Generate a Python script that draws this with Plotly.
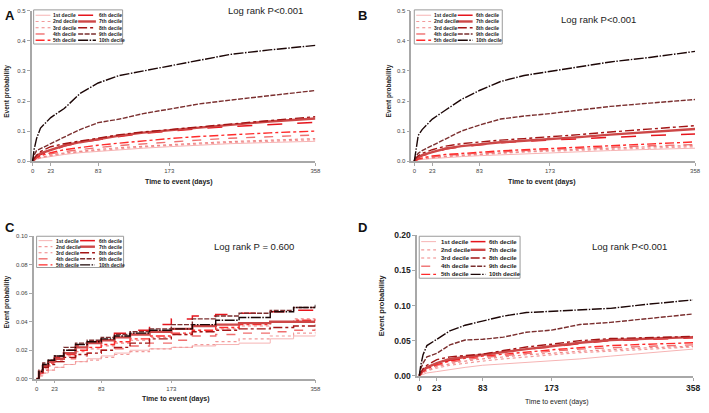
import plotly.graph_objects as go

W, H = 709, 413

DECILES = ["1st decile", "2nd decile", "3rd decile", "4th decile", "5th decile",
           "6th decile", "7th decile", "8th decile", "9th decile", "10th decile"]
X_TICKS = [0, 23, 83, 173, 358]

# time grid (days) at which curves were read
TIME_ABD = [0, 2, 5, 10, 23, 40, 60, 83, 110, 140, 173, 210, 250, 300, 358]
TIME_C = [0, 3, 8, 15, 23, 35, 50, 65, 83, 100, 120, 145, 173, 200, 230, 260, 300, 330, 358]

# Panel A: event probability per decile (1st .. 10th)
A_VALUES = [
    [0, 0.003, 0.006, 0.010, 0.016, 0.022, 0.028, 0.033, 0.038, 0.043, 0.048, 0.053, 0.058, 0.062, 0.066],
    [0, 0.004, 0.007, 0.011, 0.018, 0.025, 0.031, 0.036, 0.042, 0.047, 0.052, 0.057, 0.062, 0.066, 0.071],
    [0, 0.004, 0.008, 0.012, 0.020, 0.027, 0.033, 0.039, 0.045, 0.050, 0.055, 0.060, 0.065, 0.070, 0.075],
    [0, 0.005, 0.010, 0.015, 0.024, 0.032, 0.039, 0.045, 0.052, 0.058, 0.064, 0.070, 0.076, 0.082, 0.087],
    [0, 0.006, 0.012, 0.018, 0.028, 0.038, 0.046, 0.053, 0.060, 0.068, 0.075, 0.082, 0.088, 0.094, 0.100],
    [0, 0.007, 0.014, 0.022, 0.035, 0.050, 0.062, 0.072, 0.082, 0.092, 0.100, 0.108, 0.115, 0.122, 0.129],
    [0, 0.008, 0.016, 0.026, 0.038, 0.052, 0.063, 0.074, 0.085, 0.095, 0.103, 0.112, 0.122, 0.132, 0.142],
    [0, 0.010, 0.020, 0.032, 0.048, 0.058, 0.066, 0.076, 0.088, 0.097, 0.105, 0.115, 0.125, 0.135, 0.148],
    [0, 0.020, 0.035, 0.042, 0.058, 0.080, 0.105, 0.128, 0.140, 0.158, 0.172, 0.190, 0.203, 0.218, 0.235],
    [0, 0.040, 0.075, 0.110, 0.145, 0.175, 0.225, 0.260, 0.285, 0.300, 0.315, 0.335, 0.355, 0.370, 0.385],
]

# Panel B
B_VALUES = [
    [0, 0.002, 0.004, 0.006, 0.009, 0.012, 0.015, 0.018, 0.021, 0.024, 0.027, 0.031, 0.035, 0.039, 0.043],
    [0, 0.002, 0.004, 0.007, 0.011, 0.015, 0.018, 0.022, 0.026, 0.030, 0.033, 0.036, 0.040, 0.044, 0.048],
    [0, 0.003, 0.005, 0.008, 0.012, 0.016, 0.020, 0.024, 0.028, 0.032, 0.036, 0.040, 0.044, 0.048, 0.052],
    [0, 0.003, 0.006, 0.009, 0.014, 0.019, 0.023, 0.027, 0.031, 0.035, 0.039, 0.043, 0.047, 0.051, 0.055],
    [0, 0.004, 0.007, 0.011, 0.017, 0.022, 0.026, 0.030, 0.034, 0.038, 0.042, 0.047, 0.052, 0.058, 0.064],
    [0, 0.006, 0.012, 0.018, 0.028, 0.040, 0.048, 0.055, 0.061, 0.066, 0.070, 0.075, 0.080, 0.085, 0.090],
    [0, 0.007, 0.013, 0.020, 0.030, 0.042, 0.050, 0.056, 0.063, 0.068, 0.073, 0.080, 0.088, 0.097, 0.107],
    [0, 0.010, 0.018, 0.026, 0.038, 0.050, 0.058, 0.064, 0.070, 0.075, 0.080, 0.088, 0.097, 0.107, 0.118],
    [0, 0.015, 0.026, 0.035, 0.052, 0.075, 0.100, 0.120, 0.140, 0.150, 0.158, 0.170, 0.182, 0.193, 0.205],
    [0, 0.040, 0.085, 0.105, 0.140, 0.170, 0.205, 0.235, 0.265, 0.285, 0.298, 0.315, 0.330, 0.345, 0.365],
]

# Panel C (step curves)
C_VALUES = [
    [0, 0.002, 0.004, 0.006, 0.008, 0.010, 0.012, 0.014, 0.016, 0.018, 0.020, 0.021, 0.022, 0.023, 0.024, 0.025, 0.028, 0.030, 0.031],
    [0, 0.002, 0.004, 0.006, 0.008, 0.010, 0.012, 0.013, 0.015, 0.017, 0.019, 0.021, 0.022, 0.024, 0.026, 0.028, 0.030, 0.032, 0.033],
    [0, 0.003, 0.007, 0.010, 0.013, 0.016, 0.019, 0.021, 0.023, 0.025, 0.027, 0.029, 0.031, 0.033, 0.035, 0.037, 0.040, 0.042, 0.043],
    [0, 0.003, 0.006, 0.009, 0.012, 0.014, 0.016, 0.018, 0.020, 0.021, 0.023, 0.025, 0.027, 0.030, 0.031, 0.032, 0.033, 0.034, 0.035],
    [0, 0.004, 0.008, 0.011, 0.014, 0.017, 0.020, 0.022, 0.024, 0.026, 0.028, 0.030, 0.032, 0.034, 0.036, 0.038, 0.040, 0.041, 0.042],
    [0, 0.004, 0.009, 0.012, 0.015, 0.020, 0.023, 0.026, 0.029, 0.032, 0.034, 0.038, 0.042, 0.044, 0.045, 0.046, 0.047, 0.048, 0.0485],
    [0, 0.005, 0.009, 0.012, 0.014, 0.018, 0.022, 0.025, 0.027, 0.029, 0.031, 0.033, 0.035, 0.037, 0.038, 0.039, 0.040, 0.040, 0.040],
    [0, 0.004, 0.008, 0.010, 0.012, 0.015, 0.017, 0.018, 0.020, 0.022, 0.025, 0.028, 0.031, 0.033, 0.034, 0.035, 0.036, 0.037, 0.038],
    [0, 0.006, 0.011, 0.013, 0.016, 0.022, 0.025, 0.027, 0.029, 0.031, 0.033, 0.035, 0.038, 0.042, 0.044, 0.046, 0.048, 0.050, 0.051],
    [0, 0.005, 0.010, 0.013, 0.016, 0.020, 0.024, 0.026, 0.028, 0.030, 0.032, 0.034, 0.035, 0.038, 0.041, 0.043, 0.047, 0.050, 0.052],
]

# Panel D
D_VALUES = [
    [0, 0.001, 0.002, 0.004, 0.006, 0.009, 0.012, 0.015, 0.017, 0.019, 0.021, 0.024, 0.028, 0.033, 0.038],
    [0, 0.002, 0.004, 0.007, 0.011, 0.015, 0.018, 0.021, 0.024, 0.027, 0.030, 0.033, 0.035, 0.038, 0.041],
    [0, 0.002, 0.005, 0.008, 0.013, 0.017, 0.021, 0.024, 0.027, 0.030, 0.032, 0.035, 0.037, 0.040, 0.042],
    [0, 0.003, 0.006, 0.009, 0.015, 0.019, 0.023, 0.026, 0.029, 0.032, 0.035, 0.038, 0.040, 0.042, 0.044],
    [0, 0.003, 0.006, 0.010, 0.016, 0.021, 0.025, 0.028, 0.031, 0.034, 0.037, 0.040, 0.043, 0.045, 0.047],
    [0, 0.003, 0.007, 0.011, 0.017, 0.022, 0.026, 0.030, 0.034, 0.038, 0.041, 0.046, 0.050, 0.052, 0.054],
    [0, 0.004, 0.008, 0.012, 0.018, 0.024, 0.027, 0.030, 0.034, 0.038, 0.042, 0.047, 0.051, 0.053, 0.055],
    [0, 0.005, 0.010, 0.015, 0.023, 0.027, 0.029, 0.031, 0.036, 0.041, 0.045, 0.050, 0.053, 0.054, 0.056],
    [0, 0.010, 0.018, 0.027, 0.032, 0.044, 0.051, 0.052, 0.055, 0.062, 0.065, 0.073, 0.076, 0.082, 0.088],
    [0, 0.015, 0.030, 0.043, 0.052, 0.064, 0.072, 0.078, 0.085, 0.090, 0.092, 0.094, 0.096, 0.102, 0.108],
]

PVALUE_TEXT = {"A": "Log rank P&lt;0.001", "B": "Log rank P&lt;0.001",
               "C": "Log rank P = 0.600", "D": "Log rank P&lt;0.001"}

# ---- styles ----
COLORS = ["#f6b4b4", "#f29a9a", "#ef8585", "#ef6f6f", "#ff2a2a",
          "#e5141c", "#cd4747", "#a31515", "#7a2e2e", "#1c0606"]
DASHES = ["solid", "dot", "dot", "dash", "dashdot",
          "longdash", "solid", "dashdot", "5px,1.5px", "10px,1.5px,1.5px,1.5px"]
WIDTHS = [1.0, 1.2, 1.2, 1.4, 1.4, 1.5, 2.4, 1.4, 1.4, 1.4]

FONT = "Liberation Sans"


def fx(px):
    return px / W


def fy(py):
    return 1 - py / H


# panel geometry in pixels
PANELS = [
    dict(key="A", ax="", time=TIME_ABD, vals=A_VALUES, shape="linear",
         xdom=(31, 318), xr=(-1.2, 358), ydom=(160, 6), yr=(0, 0.5), ytick=0.1, yfmt=".1f",
         tick=dict(size=6, color="#444"),
         letter=(9, 11), ptitle=(268, 6), ytitle=(6, 88), xtitle=(180, 181), tfs=(6.5, 7, True),
         leg=dict(box=(33, 5, 123, 40), y0=10.5, dy=6.4, c1=(35, 50, 52), c2=(78, 96, 98), fs=5)),
    dict(key="B", ax="2", time=TIME_ABD, vals=B_VALUES, shape="linear",
         xdom=(415, 702), xr=(-3.8, 358), ydom=(160, 6), yr=(0, 0.5), ytick=0.1, yfmt=".1f",
         tick=dict(size=6, color="#444"),
         letter=(366, 11), ptitle=(604, 15), ytitle=(392, 88), xtitle=(547, 181), tfs=(6.5, 7, True),
         leg=dict(box=(418, 5, 507, 40), y0=10.5, dy=6.4, c1=(420, 435, 437), c2=(462, 477, 479), fs=5)),
    dict(key="C", ax="3", time=TIME_C, vals=C_VALUES, shape="hv",
         xdom=(33, 318), xr=(-3.8, 358), ydom=(383, 237), yr=(0, 0.10), ytick=0.02, yfmt=".2f",
         tick=dict(size=6, color="#444"),
         letter=(9, 228), ptitle=(256, 247), ytitle=(6, 304), xtitle=(177, 404), tfs=(6.5, 7, True),
         leg=dict(box=(36, 237, 124, 269), y0=241.5, dy=6.2, c1=(38, 52, 55), c2=(80, 95, 98), fs=5)),
    dict(key="D", ax="4", time=TIME_ABD, vals=D_VALUES, shape="linear",
         xdom=(421, 700), xr=(-2.6, 358), ydom=(380, 236), yr=(0, 0.20), ytick=0.05, yfmt=".2f",
         tick=dict(size=8.5, color="#222", weight="bold"),
         letter=(366, 228), ptitle=(636, 247), ytitle=(385, 308), xtitle=(562, 407), tfs=(7.5, 7, False),
         leg=dict(box=(423, 237, 525, 280), y0=242.5, dy=8.4, c1=(425, 440, 444), c2=(475, 490, 493), fs=6)),
]

fig = go.Figure()
shapes = []
annotations = []

for p in PANELS:
    xa = "x" + p["ax"]
    ya = "y" + p["ax"]
    for i, name in enumerate(DECILES):
        fig.add_trace(go.Scatter(
            x=p["time"], y=p["vals"][i], mode="lines", name=name,
            line=dict(color=COLORS[i], dash=DASHES[i], width=WIDTHS[i], shape=p["shape"]),
            xaxis=xa, yaxis=ya, showlegend=False, hoverinfo="skip"))

    axis_style = dict(showline=True, linecolor="#a8a8a8", linewidth=1.5, ticks="outside",
                      ticklen=3, tickwidth=1, tickcolor="#a8a8a8", showgrid=False,
                      zeroline=False, tickfont=dict(family=FONT, **p["tick"]), fixedrange=True)
    xkey = "xaxis" + p["ax"]
    ykey = "yaxis" + p["ax"]
    fig.update_layout(**{
        xkey: dict(axis_style, domain=[fx(p["xdom"][0]), fx(p["xdom"][1])], range=list(p["xr"]),
                   tickvals=X_TICKS, anchor=ya),
        ykey: dict(axis_style, domain=[fy(p["ydom"][0]), fy(p["ydom"][1])], range=list(p["yr"]),
                   dtick=p["ytick"], tick0=0, tickformat=p["yfmt"], anchor=xa),
    })

    common = dict(xref="paper", yref="paper", showarrow=False, xanchor="center", yanchor="middle")
    yfs, xfs, xbold = p["tfs"]
    # panel letter
    annotations.append(dict(common, text="<b>%s</b>" % p["key"], x=fx(p["letter"][0]), y=fy(p["letter"][1]),
                            font=dict(family=FONT, size=13, color="#111")))
    # log rank text
    annotations.append(dict(common, text=PVALUE_TEXT[p["key"]], x=fx(p["ptitle"][0]), y=fy(p["ptitle"][1]),
                            font=dict(family=FONT, size=9.5, color="#222")))
    # axis titles
    annotations.append(dict(common, text="<b>Event probability</b>", x=fx(p["ytitle"][0]), y=fy(p["ytitle"][1]),
                            textangle=-90, font=dict(family=FONT, size=yfs, color="#222")))
    xt = "Time to event (days)"
    annotations.append(dict(common, text=("<b>%s</b>" % xt) if xbold else xt,
                            x=fx(p["xtitle"][0]), y=fy(p["xtitle"][1]),
                            font=dict(family=FONT, size=xfs, color="#222")))

    # legend box (two columns of five entries)
    lg = p["leg"]
    bx0, by0, bx1, by1 = lg["box"]
    shapes.append(dict(type="rect", xref="paper", yref="paper",
                       x0=fx(bx0), x1=fx(bx1), y0=fy(by1), y1=fy(by0),
                       line=dict(color="#9a9a9a", width=1), fillcolor="rgba(255,255,255,1)"))
    for i, name in enumerate(DECILES):
        col = lg["c1"] if i < 5 else lg["c2"]
        row = i % 5
        yy = lg["y0"] + row * lg["dy"]
        shapes.append(dict(type="line", xref="paper", yref="paper",
                           x0=fx(col[0]), x1=fx(col[1]), y0=fy(yy), y1=fy(yy),
                           line=dict(color=COLORS[i], dash=DASHES[i], width=WIDTHS[i])))
        annotations.append(dict(text="<b>%s</b>" % name, x=fx(col[2]), y=fy(yy),
                                xref="paper", yref="paper", xanchor="left", yanchor="middle",
                                showarrow=False, borderpad=0,
                                font=dict(family=FONT, size=lg["fs"], color="#222")))

fig.update_layout(width=W, height=H, margin=dict(l=0, r=0, t=0, b=0),
                  paper_bgcolor="white", plot_bgcolor="white",
                  shapes=shapes, annotations=annotations, showlegend=False)

fig.write_html("out.html", config={"displayModeBar": False},
               post_script="document.body.style.margin='0';document.body.style.overflow='hidden';")
